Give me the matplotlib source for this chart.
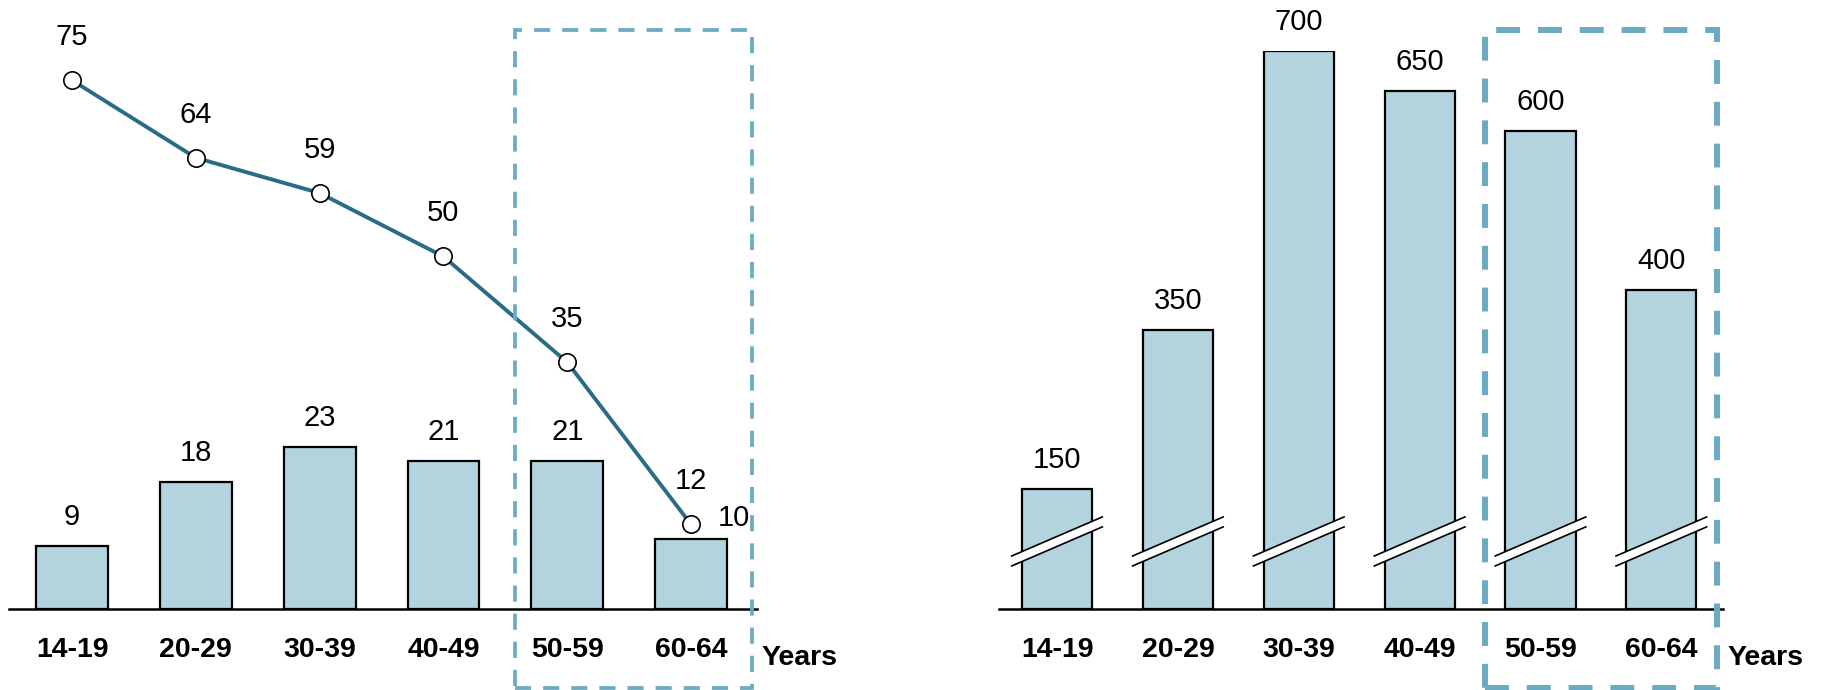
import matplotlib
matplotlib.use("Agg")
import matplotlib.pyplot as plt
from matplotlib.patches import Rectangle, Polygon

plt.rcParams['font.family'] = ['Liberation Sans', 'DejaVu Sans']

age_groups = ["14-19", "20-29", "30-39", "40-49", "50-59", "60-64"]
bar_left = [9, 18, 23, 21, 21, 10]
line_left = [75, 64, 59, 50, 35, 12]
bar_right = [150, 350, 700, 650, 600, 400]

BAR_FILL = "#b3d3de"
LINE_COL = "#2a6b88"
BOX_COL = "#6aaac2"
VAL_SIZE = 21
TICK_SIZE = 20.5

W, H = 1825, 690
fig = plt.figure(figsize=(W / 100, H / 100), dpi=100)


def px_axes(x0, x1, y_base, height):
    return fig.add_axes([x0 / W, (H - y_base) / H, (x1 - x0) / W, height / H])


def style_axis(ax):
    for s in ("top", "right", "left"):
        ax.spines[s].set_visible(False)
    ax.spines["bottom"].set_linewidth(1.8)
    ax.set_yticks([])
    ax.set_xticks(range(len(age_groups)), age_groups,
                  fontsize=TICK_SIZE, fontweight="bold")
    ax.tick_params(axis="x", length=0, pad=20)
    ax.annotate("Years", xy=(1, 0), xycoords="axes fraction",
                xytext=(4, -56), textcoords="offset pixels",
                ha="left", va="baseline", fontsize=TICK_SIZE, fontweight="bold")


# ---- left panel: bars with a line overlay ----
axL = px_axes(9, 757, 609, 564)
axL.set_xlim(-0.509, 5.533)
axL.set_ylim(0, 80)
x = list(range(len(age_groups)))
axL.bar(x, bar_left, width=0.58, color=BAR_FILL, edgecolor="black",
        linewidth=1.6, zorder=2)
axL.plot(x, line_left, color=LINE_COL, linewidth=2.8, marker="o",
         markersize=12.5, markerfacecolor="white", markeredgecolor="black",
         markeredgewidth=1.2, zorder=4, clip_on=False)
for i, v in enumerate(bar_left):
    if i == len(bar_left) - 1:
        axL.annotate(str(v), (i, v), xytext=(43, 21), textcoords="offset pixels",
                     ha="center", va="center", fontsize=VAL_SIZE,
                     annotation_clip=False)
    else:
        axL.annotate(str(v), (i, v), xytext=(0, 29), textcoords="offset pixels",
                     ha="center", va="center", fontsize=VAL_SIZE,
                     annotation_clip=False)
for i, v in enumerate(line_left):
    axL.annotate(str(v), (i, v), xytext=(0, 43), textcoords="offset pixels",
                 ha="center", va="center", fontsize=VAL_SIZE,
                 annotation_clip=False)
style_axis(axL)

# ---- right panel: bars with axis-break marks ----
axR = px_axes(999, 1723, 609, 558)
axR.set_xlim(-0.48, 5.51)
axR.set_ylim(0, 700)
axR.bar(x, bar_right, width=0.58, color=BAR_FILL, edgecolor="black",
        linewidth=1.6, zorder=2)
for i, v in enumerate(bar_right):
    axR.annotate(str(v), (i, v), xytext=(0, 29), textcoords="offset pixels",
                 ha="center", va="center", fontsize=VAL_SIZE,
                 annotation_clip=False)
    # slanted break band across each bar
    lo0, lo1, band, half = 54, 103, 12.5, 0.375
    axR.add_patch(Polygon([(i - half, lo0), (i + half, lo1),
                           (i + half, lo1 + band), (i - half, lo0 + band)],
                          closed=True, facecolor="white", edgecolor="none",
                          zorder=3, clip_on=False))
    axR.plot([i - half, i + half], [lo0, lo1], color="black", lw=1.2,
             zorder=4, clip_on=False)
    axR.plot([i - half, i + half], [lo0 + band, lo1 + band], color="black",
             lw=1.2, zorder=4, clip_on=False)
style_axis(axR)

# ---- dashed highlight boxes around the last two age groups ----
def dashed_box(x0, x1, y0, y1, lw, dashes):
    r = Rectangle((x0 / W, (H - y1) / H), (x1 - x0) / W, (y1 - y0) / H,
                  transform=fig.transFigure, fill=False, edgecolor=BOX_COL,
                  linewidth=lw, linestyle=(0, dashes), zorder=10)
    fig.add_artist(r)


dashed_box(515, 752, 30, 688, 2.7, (4.3, 3.2))
dashed_box(1485, 1717, 30, 688, 4.3, (4.0, 3.0))

fig.savefig("out.png", dpi=100)
